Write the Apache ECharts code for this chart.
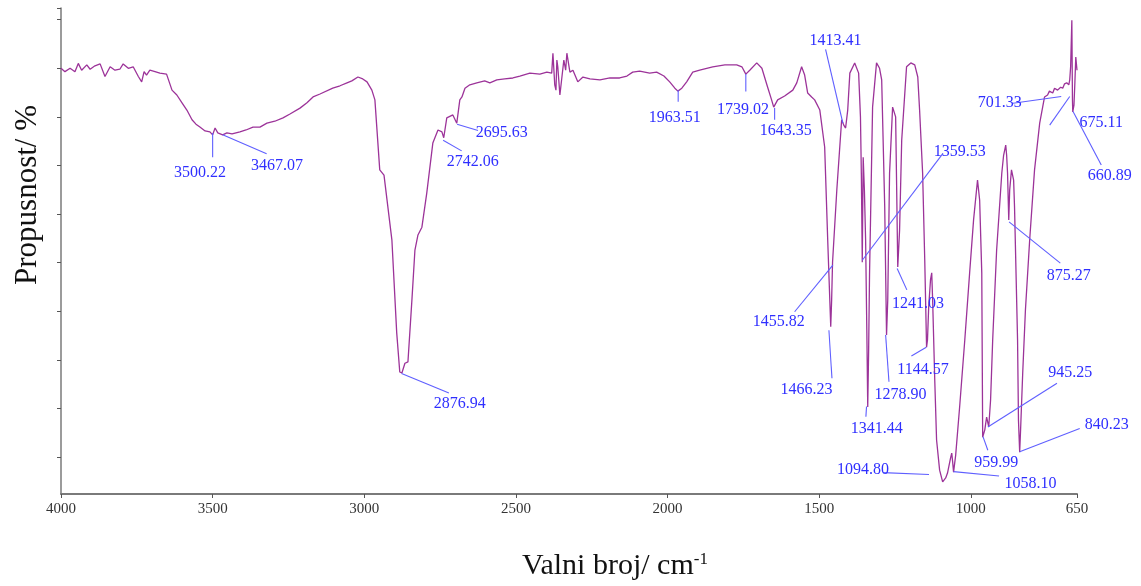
<!DOCTYPE html>
<html>
<head>
<meta charset="utf-8">
<script src="https://cdn.jsdelivr.net/npm/echarts@6/dist/echarts.min.js"></script>
<style>
  html, body { margin: 0; padding: 0; background: #fff; }
  #chart { width: 1141px; height: 586px; }
</style>
</head>
<body>
<div id="chart"></div>
<script>
// IR spektar - valni broj (cm-1) i propusnost (%)
var wave = [
  4000,3987,3970,3954,3943,3932,3915,3904,3888,3871,3855,3838,3822,3806,3795,3778,3762,3745,3734,3726,3718,3707,3690,3674,3652,
  3634,3618,3601,3585,3568,3555,3542,3525,3509,3500,3492,3483,3467,3453,3436,3410,3390,3367,3344,3321,3295,3268,3245,3212,3189,3169,3146,3104,3080,3057,3041,3021,3005,2991,2975,
  2965,2949,2935,2909,2893,2883,2876,2866,2856,2843,2833,2823,2810,2794,2774,2757,2744,2738,2728,2708,2695,2685,2678,2668,2652,2629,2603,2586,2563,2537,2510,2487,2454,2421,2398,2382,
  2378,2372,2368,2365,2362,2355,2349,2342,2339,2336,2332,2322,2312,2296,2279,2256,2223,2190,2158,2134,2115,2092,2059,2036,2012,1993,1976,1966,1953,1937,1917,1894,1851,1811,1772,1755,1742,1729,1706,1689,
  1670,1657,1650,1637,1614,1587,1574,1558,1548,1538,1525,1515,1498,1482,1472,1462,1459,1456,1442,1426,1419,1413,1406,1399,1383,
  1370,1364,1361,1358,1355,1351,1347,1343,1340,1337,1334,1324,1311,1301,1294,1284,1278,1274,1268,1258,1248,1245,1241,1235,1228,1212,1198,1185,1175,1169,1159,1152,1146,1143,1139,1133,1129,1126,1119,1113,1103,1093,1083,1077,1067,1063,1060,1057,1050,
  1037,1020,1004,991,978,971,964,961,954,948,941,935,928,915,898,892,885,882,879,875,872,866,859,856,846,843,839,836,829,820,806,790,773,757,747,741,730,724,714,704,697,691,684,677,674,671,667,665,664,660,657,654,650
];
var trans = [
  90.0,89.3,90.0,89.3,91.0,89.6,90.7,89.8,90.5,90.9,88.3,90.3,89.6,89.8,90.9,90.0,90.3,88.3,87.2,89.3,88.6,89.6,89.3,89.0,88.8,
  85.5,84.5,82.9,81.4,79.4,78.5,77.9,77.1,76.9,76.3,77.7,76.7,76.3,76.7,76.5,76.9,77.3,77.9,77.9,78.7,79.1,79.8,80.6,81.8,82.9,84.1,84.7,85.9,86.4,87.0,87.4,88.2,87.8,87.2,85.5,
  83.5,69.1,68.0,54.7,35.5,27.5,27.3,29.3,29.6,42.3,52.6,55.7,57.3,64.3,74.6,77.3,76.9,75.7,79.8,80.4,78.7,83.5,84.1,85.9,86.6,87.0,87.4,87.0,87.6,87.8,88.0,88.4,89.0,88.8,89.2,89.0,
  93.1,86.6,85.5,91.7,90.3,84.5,84.1,91.7,92.1,89.6,93.1,89.2,89.6,87.2,88.2,87.8,87.6,88.0,88.0,88.4,89.2,89.4,89.0,89.2,88.4,87.2,85.9,85.3,85.9,87.2,89.2,89.6,90.3,90.7,90.7,90.3,88.8,89.6,91.1,90.0,
  86.1,83.5,82.0,83.5,84.3,85.5,87.0,90.3,88.6,84.9,84.1,83.5,81.4,73.8,54.7,36.8,42.3,50.1,64.9,79.4,78.3,77.7,81.4,89.0,91.1,
  89.0,80.0,68.0,50.1,71.7,64.9,54.7,36.1,20.3,32.0,47.9,82.0,91.1,90.0,87.6,61.5,35.1,42.3,68.4,82.0,80.0,67.0,49.1,56.7,75.2,90.3,91.1,90.7,88.2,81.4,68.4,50.5,32.6,34.1,40.9,46.5,47.9,42.3,25.8,13.5,7.3,4.9,5.7,6.7,9.8,10.8,9.0,6.9,10.4,
  20.3,34.1,47.9,58.8,67.0,62.9,47.9,14.1,15.6,18.2,16.2,21.7,34.1,52.6,68.4,72.1,74.2,72.1,68.4,58.8,64.9,69.1,67.0,61.5,34.1,17.6,11.0,15.6,27.3,40.3,54.7,69.1,78.7,84.1,84.5,85.3,84.9,85.9,85.5,86.1,85.9,86.8,87.0,86.6,87.6,90.3,99.9,83.5,81.0,82.4,87.0,92.3,89.6
];

// oznake x osi i crtice y osi
var xTicks = [4000, 3500, 3000, 2500, 2000, 1500, 1000, 650];
var yTicks = [10, 20, 30, 40, 50, 60, 70, 80, 90, 100, 102.4];

// oznake pikova: tekst, pocetak i kraj linije, polozaj teksta
var peakLabels = ['3500.22','3467.07','2876.94','2742.06','2695.63','1963.51','1739.02','1643.35','1413.41','1359.53',
  '1455.82','1466.23','1341.44','1278.90','1241.03','1144.57','1094.80','1058.10','959.99','945.25',
  '840.23','875.27','701.33','675.11','660.89'];
var leaderFrom = [[3500,76.7],[3467,76.3],[2877,27.2],[2740,75.2],[2694,78.5],[1965,85.5],[1742,88.8],[1647,81.8],[1422,78.7],[1358,50.5],
  [1455,49.5],[1468,36.1],[1344,20.4],[1281,35.1],[1243,48.8],[1147,32.6],[1138,6.4],[1057,7.0],[960,14.2],[944,16.2],
  [839,11.1],[874,58.4],[702,84.2],[674,84.2],[663,81.1]];
var leaderTo = [[3500,71.7],[3322,72.4],[2721,23.2],[2679,73.0],[2625,77.2],[1965,83.1],[1742,85.2],[1647,79.4],[1479,93.9],[1092,72.5],
  [1581,39.9],[1458,26.2],[1346,18.3],[1270,25.5],[1211,44.4],[1196,30.8],[1290,6.8],[907,6.1],[944,11.4],[716,25.2],
  [641,15.9],[705,49.9],[861,82.8],[740,78.3],[570,70.1]];
var labelAt = [[3542,68.4],[3288,69.9],[2685,20.9],[2642,70.7],[2547,76.8],[1976,79.9],[1751,81.4],[1610,77.2],[1446,95.6],[1037,72.8],
  [1633,37.8],[1542,23.9],[1310,15.9],[1232,22.8],[1174,41.6],[1158,28.0],[1356,7.3],[803,4.4],[916,8.8],[672,27.3],
  [552,16.6],[677,47.3],[905,82.9],[570,78.7],[542,67.9]];

var spectrum = [];
for (var i = 0; i < wave.length; i++) {
    spectrum.push([wave[i], trans[i]]);
}
var notes = [];
for (var j = 0; j < peakLabels.length; j++) {
    notes.push([leaderFrom[j][0], leaderFrom[j][1], leaderTo[j][0], leaderTo[j][1], labelAt[j][0], labelAt[j][1]]);
}

var serif = '"Liberation Serif", "Times New Roman", serif';

var option = {
    animation: false,
    backgroundColor: '#fff',
    grid: { left: 61, right: 64, top: 8, bottom: 92 },
    xAxis: {
        type: 'value',
        inverse: true,
        min: 650,
        max: 4000,
        axisLine: { lineStyle: { color: '#7a7a7a', width: 2 } },
        axisTick: { customValues: xTicks, length: 4, lineStyle: { color: '#555' } },
        axisLabel: {
            customValues: xTicks,
            formatter: function (v) { return String(v); },
            color: '#333',
            fontFamily: serif,
            fontSize: 15,
            margin: 8
        },
        splitLine: { show: false }
    },
    yAxis: {
        type: 'value',
        min: 2.4,
        max: 102.4,
        axisLine: { show: true, lineStyle: { color: '#7a7a7a', width: 1.5 } },
        axisTick: { show: true, customValues: yTicks, length: 4, lineStyle: { color: '#555' } },
        axisLabel: { show: false },
        splitLine: { show: false }
    },
    graphic: [
        {
            type: 'text',
            x: 28, y: 195,
            rotation: Math.PI / 2,
            style: { text: 'Propusnost/ %', font: '31px ' + serif, fill: '#111', align: 'center', verticalAlign: 'middle' }
        },
        {
            type: 'text',
            x: 615, y: 566,
            style: {
                text: '{m|Valni broj/ cm}{s|-1}',
                align: 'center',
                verticalAlign: 'middle',
                rich: {
                    m: { font: '30px ' + serif, fill: '#111' },
                    s: { font: '17px ' + serif, fill: '#111', verticalAlign: 'top' }
                }
            }
        }
    ],
    series: [
        {
            type: 'line',
            data: spectrum,
            showSymbol: false,
            lineStyle: { color: '#9c3399', width: 1.3 },
            z: 2
        },
        {
            // oznake pikova s linijama
            type: 'custom',
            data: notes,
            encode: { x: [0, 2, 4], y: [1, 3, 5] },
            clip: false,
            z: 3,
            renderItem: function (params, api) {
                var a = api.coord([api.value(0), api.value(1)]);
                var b = api.coord([api.value(2), api.value(3)]);
                var t = api.coord([api.value(4), api.value(5)]);
                return {
                    type: 'group',
                    children: [
                        { type: 'line', shape: { x1: a[0], y1: a[1], x2: b[0], y2: b[1] }, style: { stroke: '#5f5fff', lineWidth: 1.1 } },
                        { type: 'text', x: t[0], y: t[1], style: { text: peakLabels[params.dataIndex], font: '16px ' + serif, fill: '#2f2fff', align: 'center', verticalAlign: 'middle' } }
                    ]
                };
            }
        }
    ]
};

var myChart = echarts.init(document.getElementById('chart'));
myChart.setOption(option, true);
</script>
</body>
</html>
